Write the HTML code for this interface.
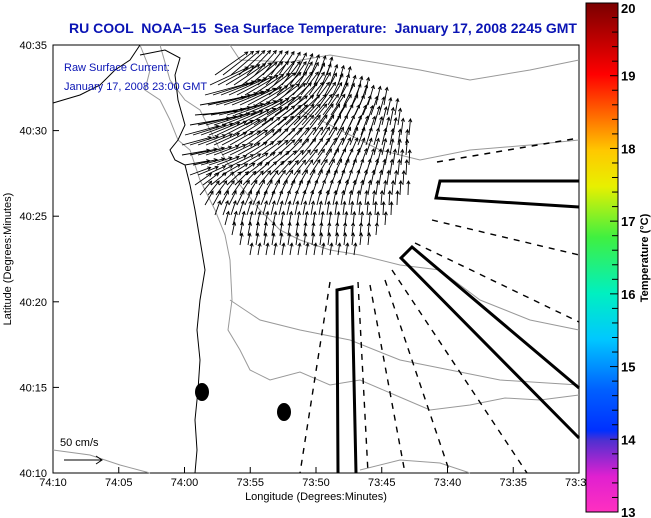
<!DOCTYPE html>
<html><head><meta charset="utf-8"><style>
html,body{margin:0;padding:0;background:#fff;}
svg{display:block;font-family:"Liberation Sans",sans-serif;}
</style></head><body>
<svg width="651" height="518" viewBox="0 0 651 518">
<defs>
<linearGradient id="cb" x1="0" y1="0" x2="0" y2="1">
<stop offset="0" stop-color="#7a0000"/>
<stop offset="0.14" stop-color="#ff0000"/>
<stop offset="0.22" stop-color="#ff6a00"/>
<stop offset="0.29" stop-color="#ffc800"/>
<stop offset="0.36" stop-color="#e8f000"/>
<stop offset="0.46" stop-color="#40f040"/>
<stop offset="0.57" stop-color="#00f0c0"/>
<stop offset="0.66" stop-color="#00c8ff"/>
<stop offset="0.76" stop-color="#0060ff"/>
<stop offset="0.84" stop-color="#0030ff"/>
<stop offset="0.86" stop-color="#5030d0"/>
<stop offset="0.93" stop-color="#e020d0"/>
<stop offset="1" stop-color="#ff30c0"/>
</linearGradient>
</defs>
<text x="323" y="33" text-anchor="middle" font-size="14" font-weight="bold" fill="#0a14b4" textLength="508" lengthAdjust="spacingAndGlyphs" style="white-space:pre">RU COOL  NOAA−15  Sea Surface Temperature:  January 17, 2008 2245 GMT</text>
<g id="plot">
<rect x="53" y="45" width="526" height="428" fill="#fff" stroke="#000"/>
<g fill="none" stroke="#999" stroke-width="1">
<path d="M140,45 L150,70 L145,90 L160,100 L170,120 L178,140 L190,150 L200,180 L215,210 L225,235 L230,260 L232,300 L228,330 L240,350 L250,370 L270,380 L300,372 L330,385 L360,380 L395,395 L430,410 L470,405 L505,398 L540,400 L579,395"/>
<path d="M160,45 L170,80 L185,100 L200,110 L220,150 L240,185 L260,210 L280,230 L300,240 L330,250 L360,255 L400,265 L440,270 L480,300 L530,320 L579,330"/>
<path d="M230,45 L240,60 L290,62 L330,55 L360,60 L420,70 L470,80 L530,70 L579,60"/>
<path d="M53,450 L90,455 L120,465 L150,473"/>
<path d="M360,470 L400,460 L440,463 L470,473"/>
<path d="M300,110 L340,130 L380,150 L420,160 L470,150 L530,145 L579,140"/>
<path d="M230,300 L260,320 L300,330 L350,340 L400,360 L450,370 L500,380 L579,385"/>
</g>
<path d="M53,103 L80,95 L100,85 L115,70 L130,60 L140,45 M140,55 L165,50 L180,58 L175,75 L178,100 L185,125 L178,140 L170,150 L175,160 L185,165 L190,185 L195,210 L200,240 L205,270 L200,300 L197,330 L200,360 L198,390 L195,420 L197,450 L195,473" fill="none" stroke="#000" stroke-width="1"/>
<g id="vec" stroke="#000" stroke-width="0.9" fill="none"></g>
<g stroke="#000" stroke-width="1.4" stroke-dasharray="6,6" fill="none">
<line x1="437" y1="162" x2="579" y2="138"/>
<line x1="432" y1="220" x2="579" y2="255"/>
<line x1="415" y1="243" x2="579" y2="322"/>
<line x1="392" y1="270" x2="527" y2="473"/>
<line x1="385" y1="280" x2="450" y2="473"/>
<line x1="370" y1="285" x2="405" y2="473"/>
<line x1="330" y1="282" x2="300" y2="473"/>
<line x1="358" y1="282" x2="368" y2="473"/>
</g>
<g stroke="#000" stroke-width="3" fill="none">
<polyline points="579,181 440,181 436,198 579,207"/>
<polyline points="579,388 412,247 401,258 579,438"/>
<polyline points="338,473 337,290 352,287 356,473"/>
</g>
<ellipse cx="202" cy="392" rx="7" ry="9" fill="#000"/>
<ellipse cx="284" cy="412" rx="7" ry="9" fill="#000"/>
<text x="64" y="71" font-size="11" fill="#0a14b4">Raw Surface Current:</text>
<text x="64" y="82" font-size="11" fill="#0a14b4" dy="8">January 17, 2008 23:00 GMT</text>
<text x="60" y="446" font-size="11" fill="#000">50 cm/s</text>
<line x1="64" y1="460" x2="102" y2="460" stroke="#000"/>
<path d="M96,456 L102,460 L96,464" fill="none" stroke="#000"/>
</g>
<g id="xaxis" font-size="11" fill="#000"></g>
<g id="yaxis" font-size="11" fill="#000"></g>
<text x="316" y="500" text-anchor="middle" font-size="11">Longitude (Degrees:Minutes)</text>
<text transform="translate(11,259) rotate(-90)" text-anchor="middle" font-size="11">Latitude (Degrees:Minutes)</text>
<rect x="586" y="3" width="32" height="509" fill="url(#cb)" stroke="#000"/>
<g id="cbax" font-size="13" font-weight="bold"></g>
<text transform="translate(648,258) rotate(-90)" text-anchor="middle" font-size="11" font-weight="bold">Temperature (°C)</text>
</svg>
<script>
const xTicks = ["74:10","74:05","74:00","73:55","73:50","73:45","73:40","73:35","73:3"];
const yTicks = ["40:35","40:30","40:25","40:20","40:15","40:10"];
const cbTicks = [20,19,18,17,16,15,14,13];
// vector field rows: tail y, x-start, x-end, direction at left/right end (deg, 0=east, 90=north), length at left/right end
const rowY     = [75,85,95,105,115,125,135,145,155,165,175,185,195,205,215,225,235,245,255];
const rowStart = [215,210,205,200,195,190,185,182,182,185,190,195,200,205,215,225,232,240,250];
const rowEnd   = [330,350,370,390,400,405,410,412,412,412,410,410,408,400,395,390,380,370,360];
const dirLeft  = [35,25,15,10,5,10,15,15,10,10,20,35,50,60,70,75,78,80,80];
const dirRight = [75,78,80,82,82,84,85,86,87,88,88,88,88,88,88,86,85,84,82];
const lenLeft  = [40,42,45,45,42,40,35,30,28,25,22,20,18,16,15,14,13,12,12];
const lenRight = [18,18,17,17,16,16,16,15,15,15,15,14,14,14,13,13,12,12,12];
const NS="http://www.w3.org/2000/svg";
const X0=53,X1=579,Y0=45,Y1=473;
function xPos(i){return X0+(X1-X0)*i/(xTicks.length-1);}
function yPos(i){return Y0+(Y1-Y0)*i/(yTicks.length-1);}
function cbPos(v){return 3+(20-v)/(20-13)*509;}
const xa=document.getElementById('xaxis');
xTicks.forEach((t,i)=>{
  const x=xPos(i);
  const l=document.createElementNS(NS,'line');
  l.setAttribute('x1',x);l.setAttribute('x2',x);l.setAttribute('y1',Y1);l.setAttribute('y2',Y1-6);l.setAttribute('stroke','#000');
  
  
  xa.appendChild(l);
  const tx=document.createElementNS(NS,'text');
  tx.setAttribute('x',x);tx.setAttribute('y',486);tx.setAttribute('text-anchor',i==xTicks.length-1?'start':'middle');
  if(i==xTicks.length-1)tx.setAttribute('x',x-14);
  tx.textContent=t;
  
  
  xa.appendChild(tx);
});
const ya=document.getElementById('yaxis');
yTicks.forEach((t,i)=>{
  const y=yPos(i);
  const l=document.createElementNS(NS,'line');
  l.setAttribute('x1',X0);l.setAttribute('x2',X0+6);l.setAttribute('y1',y);l.setAttribute('y2',y);l.setAttribute('stroke','#000');
  
  
  ya.appendChild(l);
  const tx=document.createElementNS(NS,'text');
  tx.setAttribute('x',X0-6);tx.setAttribute('y',y+4);tx.setAttribute('text-anchor','end');
  tx.textContent=t;
  
  
  ya.appendChild(tx);
});
const cb=document.getElementById('cbax');
cbTicks.forEach(v=>{
  const y=cbPos(v);
  const tx=document.createElementNS(NS,'text');
  tx.setAttribute('x',621);tx.setAttribute('y',Math.min(Math.max(y+5,13),517));
  tx.textContent=v;
  
  
  cb.appendChild(tx);
  for(let k=0;k<5;k++){
    const yy=cbPos(v)+k*(509/7/5);
    if(yy>512)break;
    const l=document.createElementNS(NS,'line');
    l.setAttribute('x1',k?612:610);l.setAttribute('x2',618);l.setAttribute('y1',yy);l.setAttribute('y2',yy);l.setAttribute('stroke','#000');
    
    
    cb.appendChild(l);
  }
});
const vg=document.getElementById('vec');
rowY.forEach((y,r)=>{
  const span=rowEnd[r]-rowStart[r];
  for(let x=rowStart[r];x<=rowEnd[r];x+=8){
    const f=span?(x-rowStart[r])/span:0;
    const d=dirLeft[r]+(dirRight[r]-dirLeft[r])*f;
    const L=lenLeft[r]+(lenRight[r]-lenLeft[r])*f;
    const a=d*Math.PI/180;
    const x2=x+L*Math.cos(a), y2=y-L*Math.sin(a);
    const h=3.5, b=Math.atan2(y2-y,x2-x);
    const p=document.createElementNS(NS,'path');
    p.setAttribute('d',`M${x},${y}L${x2},${y2}M${x2-h*Math.cos(b-0.5)},${y2-h*Math.sin(b-0.5)}L${x2},${y2}L${x2-h*Math.cos(b+0.5)},${y2-h*Math.sin(b+0.5)}`);
    
    
    vg.appendChild(p);
  }
});
</script>
</body></html>
